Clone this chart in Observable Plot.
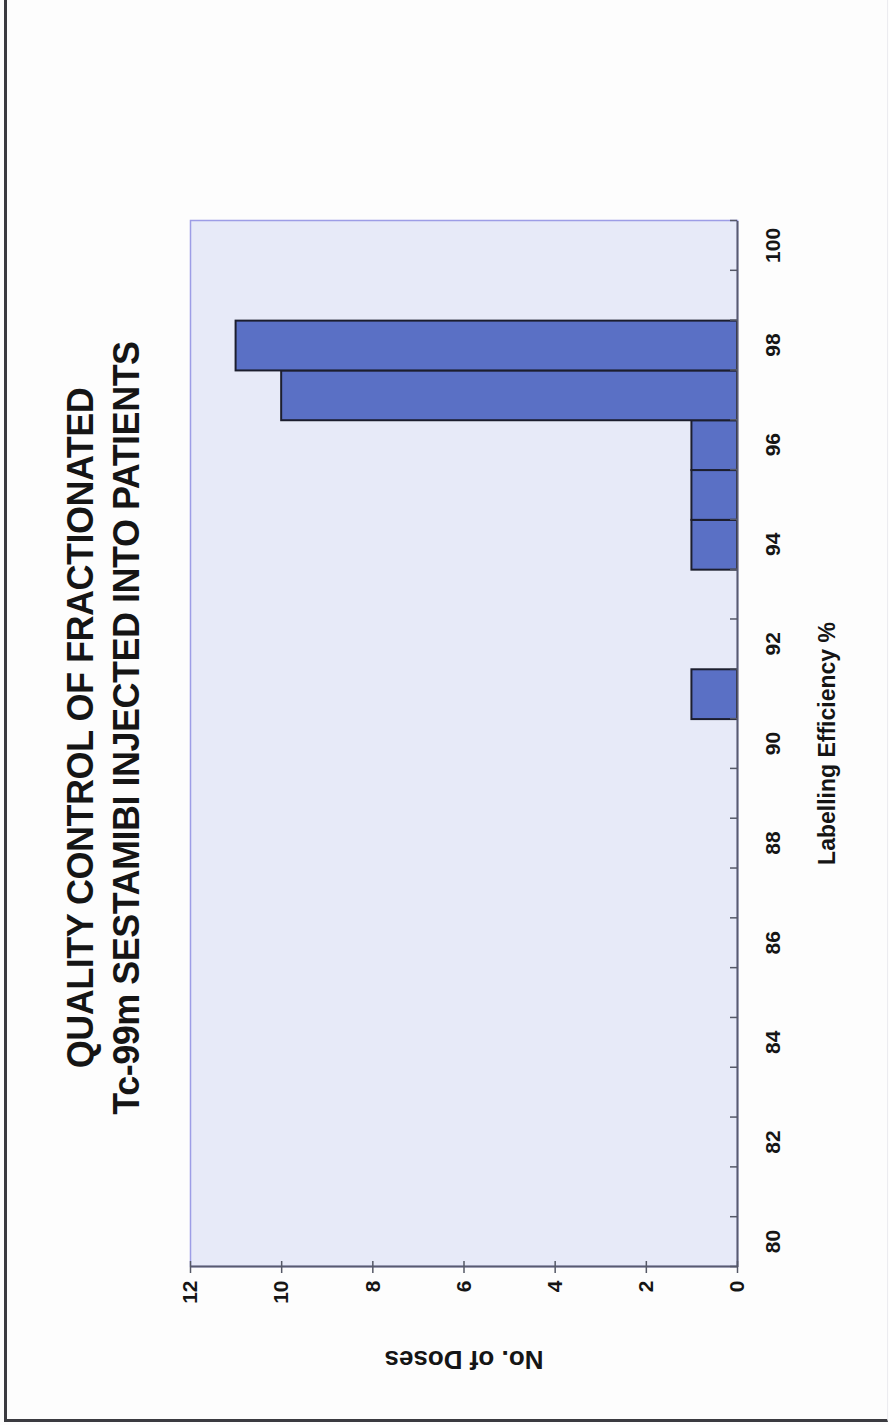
<!DOCTYPE html>
<html>
<head>
<meta charset="utf-8">
<script src="https://cdn.jsdelivr.net/npm/d3@7"></script>
<script src="https://cdn.jsdelivr.net/npm/@observablehq/plot@0.6"></script>
<style>
  html, body { margin: 0; padding: 0; background: #fdfdfd; }
  body { width: 889px; height: 1425px; position: relative; overflow: hidden; }
  #page-frame {
    position: absolute; left: 4px; top: -4px; width: 884px; height: 1426px;
    box-sizing: border-box;
    border-left: 3px solid #3b3b40; border-bottom: 3px solid #3b3b40;
    border-right: 1px solid #ececf0;
  }
  /* The chart is laid out landscape and turned a quarter turn to stand on the page */
  #chart {
    position: absolute; left: 0; top: 0; width: 1425px; height: 889px;
    transform-origin: 0 0;
    transform: translate(0px, 1425px) rotate(-90deg);
    font-family: "Liberation Sans", Arial, sans-serif;
    color: #151515;
  }
  #title {
    height: 150px; box-sizing: border-box; padding-top: 58px; padding-right: 31px;
    text-align: center; font-weight: bold; font-size: 36px; line-height: 46px;
    letter-spacing: -0.5px;
  }
  #chart svg { display: block; }
</style>
</head>
<body>
<div id="page-frame"></div>
<div id="chart">
  <div id="title">QUALITY CONTROL OF FRACTIONATED<br>Tc-99m SESTAMIBI INJECTED INTO PATIENTS</div>
</div>
<script>
// Labelling efficiency (%) of each dose group and how many doses fell in it
const efficiency = [91, 94, 95, 96, 97, 98];
const doses = [1, 1, 1, 1, 10, 11];

// Axis tick labels
const efficiencyTicks = [80, 82, 84, 86, 88, 90, 92, 94, 96, 98, 100];
const doseTicks = [0, 2, 4, 6, 8, 10, 12];

// Category edges (one per integer percentage, 80..100)
const efficiencyEdges = d3.range(79.5, 101, 1);

const rows = efficiency.map((e, i) => ({efficiency: e, doses: doses[i]}));

const W = 1425, H = 739;
const mL = 158, mR = 221, mT = 40, mB = 152;
const PW = W - mL - mR, PH = H - mT - mB;

const chart = Plot.plot({
  width: W,
  height: H,
  marginLeft: mL,
  marginRight: mR,
  marginTop: mT,
  marginBottom: mB,
  x: {domain: [79.5, 100.5], axis: null},
  y: {domain: [0, 12], axis: null},
  style: {
    fontFamily: "'Liberation Sans', Arial, sans-serif",
    fontSize: "20px",
    color: "#151515",
    background: "transparent",
    overflow: "visible"
  },
  marks: [
    Plot.frame({fill: "#e7eaf8", stroke: "#9d9de6", strokeWidth: 1.5}),
    Plot.rectY(rows, {
      x1: d => d.efficiency - 0.5,
      x2: d => d.efficiency + 0.5,
      y: "doses",
      fill: "#5a70c5",
      stroke: "#1c1e2e",
      strokeWidth: 2
    }),
    Plot.ruleX([79.5], {stroke: "#585b70", strokeWidth: 2}),
    Plot.ruleY([0], {stroke: "#585b70", strokeWidth: 2}),
    Plot.tickX(efficiencyEdges, {x: d => d, insetTop: PH - 7, stroke: "#555866", strokeWidth: 1.5}),
    Plot.tickY(doseTicks, {y: d => d, insetRight: PW - 12, dx: -6, stroke: "#555866", strokeWidth: 1.5}),
    Plot.axisX({ticks: efficiencyTicks, tickSize: 0, tickPadding: 28, label: null, fontWeight: "bold", fontSize: 21, tickFormat: d => String(d)}),
    Plot.axisY({ticks: doseTicks, tickSize: 0, tickPadding: 14, label: null, fontWeight: "bold", fontSize: 21, tickFormat: d => String(d)}),
    Plot.text(["Labelling Efficiency %"], {
      text: d => d, frameAnchor: "bottom", dy: 97, fontWeight: "bold", fontSize: 23,
      ariaLabel: "x-axis title"
    }),
    Plot.text(["No. of Doses"], {
      text: d => d, frameAnchor: "left", textAnchor: "middle", dx: -93, rotate: -90,
      fontWeight: "bold", fontSize: 26, ariaLabel: "y-axis title"
    })
  ]
});

// Widen the axis titles a touch, as set in the original report
d3.select(chart).select('g[aria-label="x-axis title"]').style("letter-spacing", "1.1px");
d3.select(chart).select('g[aria-label="y-axis title"]').style("letter-spacing", "2.6px");

document.getElementById("chart").appendChild(chart);
</script>
</body>
</html>
